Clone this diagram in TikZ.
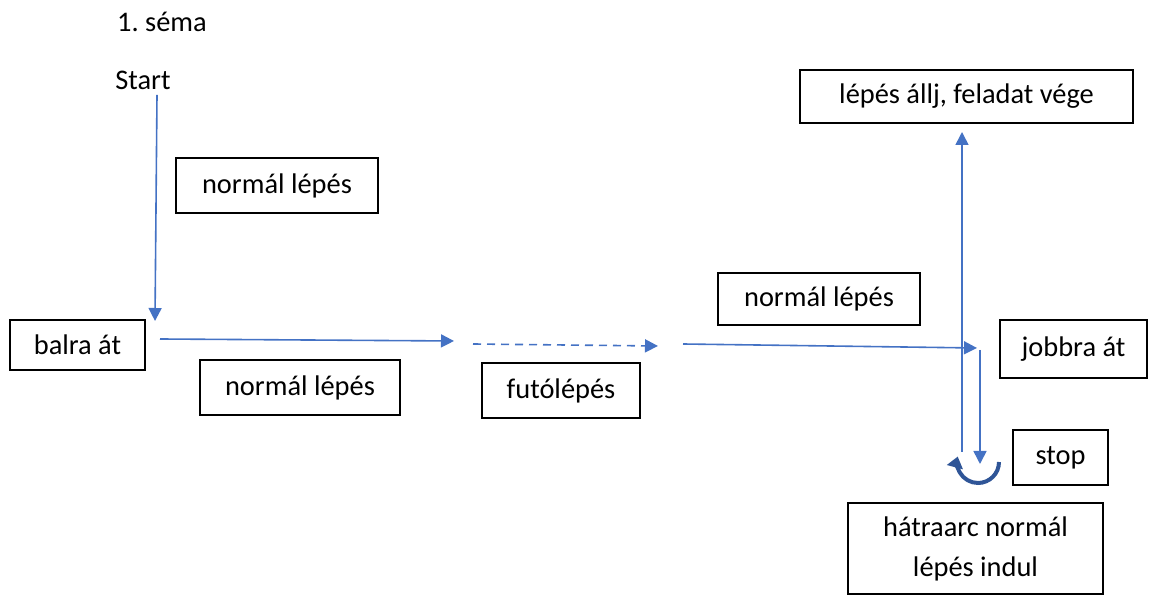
\documentclass[tikz,border=0pt]{standalone}
\usepackage{fontspec}
\setmainfont{Carlito}
\usetikzlibrary{positioning,arrows.meta}
\definecolor{lepesblue}{HTML}{4472C4}
\definecolor{fordulblue}{HTML}{2F5597}

\begin{document}
\begin{tikzpicture}[x=0.5pt,y=-0.5pt,font=\fontsize{14.2}{20}\selectfont]
   \tikzstyle{arrow} = [draw=lepesblue, line width=0.8pt, -{Triangle[length=6.5pt,width=6.5pt]}]
   \tikzset{box/.style = {rectangle, draw, line width=0.7pt, text centered, align=center, inner sep=0pt}, }
   \tikzset{felirat/.style = {inner sep=0pt}, }
   \tikzset{fordulat/.style = {draw=fordulblue, line width=2pt, -{Triangle[length=5.5pt,width=8pt]}}, }
   \useasboundingbox (0,0) rectangle (1157,597);

   \node[felirat] (cim) at (162,22) {1.\ séma};
   \node[felirat] (start) at (143,80) {Start};

   \node[box, minimum width=101pt, minimum height=27.5pt] (lepes1) at (277,185.5) {normál lépés};
   \node[box, minimum width=67.5pt, minimum height=25pt] (balra) at (77.5,345) {balra át};
   \node[box, minimum width=100pt, minimum height=27.5pt] (lepes2) at (300,387.5) {normál lépés};
   \node[box, minimum width=79pt, minimum height=27.5pt] (futo) at (561,390.5) {futólépés};
   \node[box, minimum width=101pt, minimum height=26pt] (lepes3) at (819,299) {normál lépés};
   \node[box, minimum width=73.5pt, minimum height=29pt] (jobbra) at (1073.5,349) {jobbra át};
   \node[box, minimum width=166.5pt, minimum height=26.5pt] (vege) at (966.5,96.5) {lépés állj, feladat vége};
   \node[box, minimum width=47.5pt, minimum height=27.5pt] (stop) at (1060.5,457.5) {stop};
   \node[box, minimum width=127.5pt, minimum height=45.5pt] (hatra) at (975.5,548.5) {hátraarc normál\\lépés indul};

   % ends of the arrows
   \coordinate (s1) at (157,95);
   \coordinate (e1) at (155,321);
   \coordinate (s2) at (160,339);
   \coordinate (e2) at (454,341);
   \coordinate (s3) at (473,344);
   \coordinate (e3) at (658,346);
   \coordinate (s4) at (683,344);
   \coordinate (e4) at (977,348);
   \coordinate (s5) at (962,452);
   \coordinate (e5) at (962,132);
   \coordinate (s6) at (980,350);
   \coordinate (e6) at (980,464);
   \coordinate (fordul) at (999,462);

   \draw[arrow] (s1) -- (e1);
   \draw[arrow] (s2) -- (e2);
   \draw[arrow, dashed, dash pattern=on 4pt off 3pt] (s3) -- (e3);
   \draw[arrow] (s4) -- (e4);
   \draw[arrow] (s5) -- (e5);
   \draw[arrow] (s6) -- (e6);
   \draw[fordulat] (fordul) arc[start angle=0, end angle=-195, radius=10.5pt];
\end{tikzpicture}
\end{document}
